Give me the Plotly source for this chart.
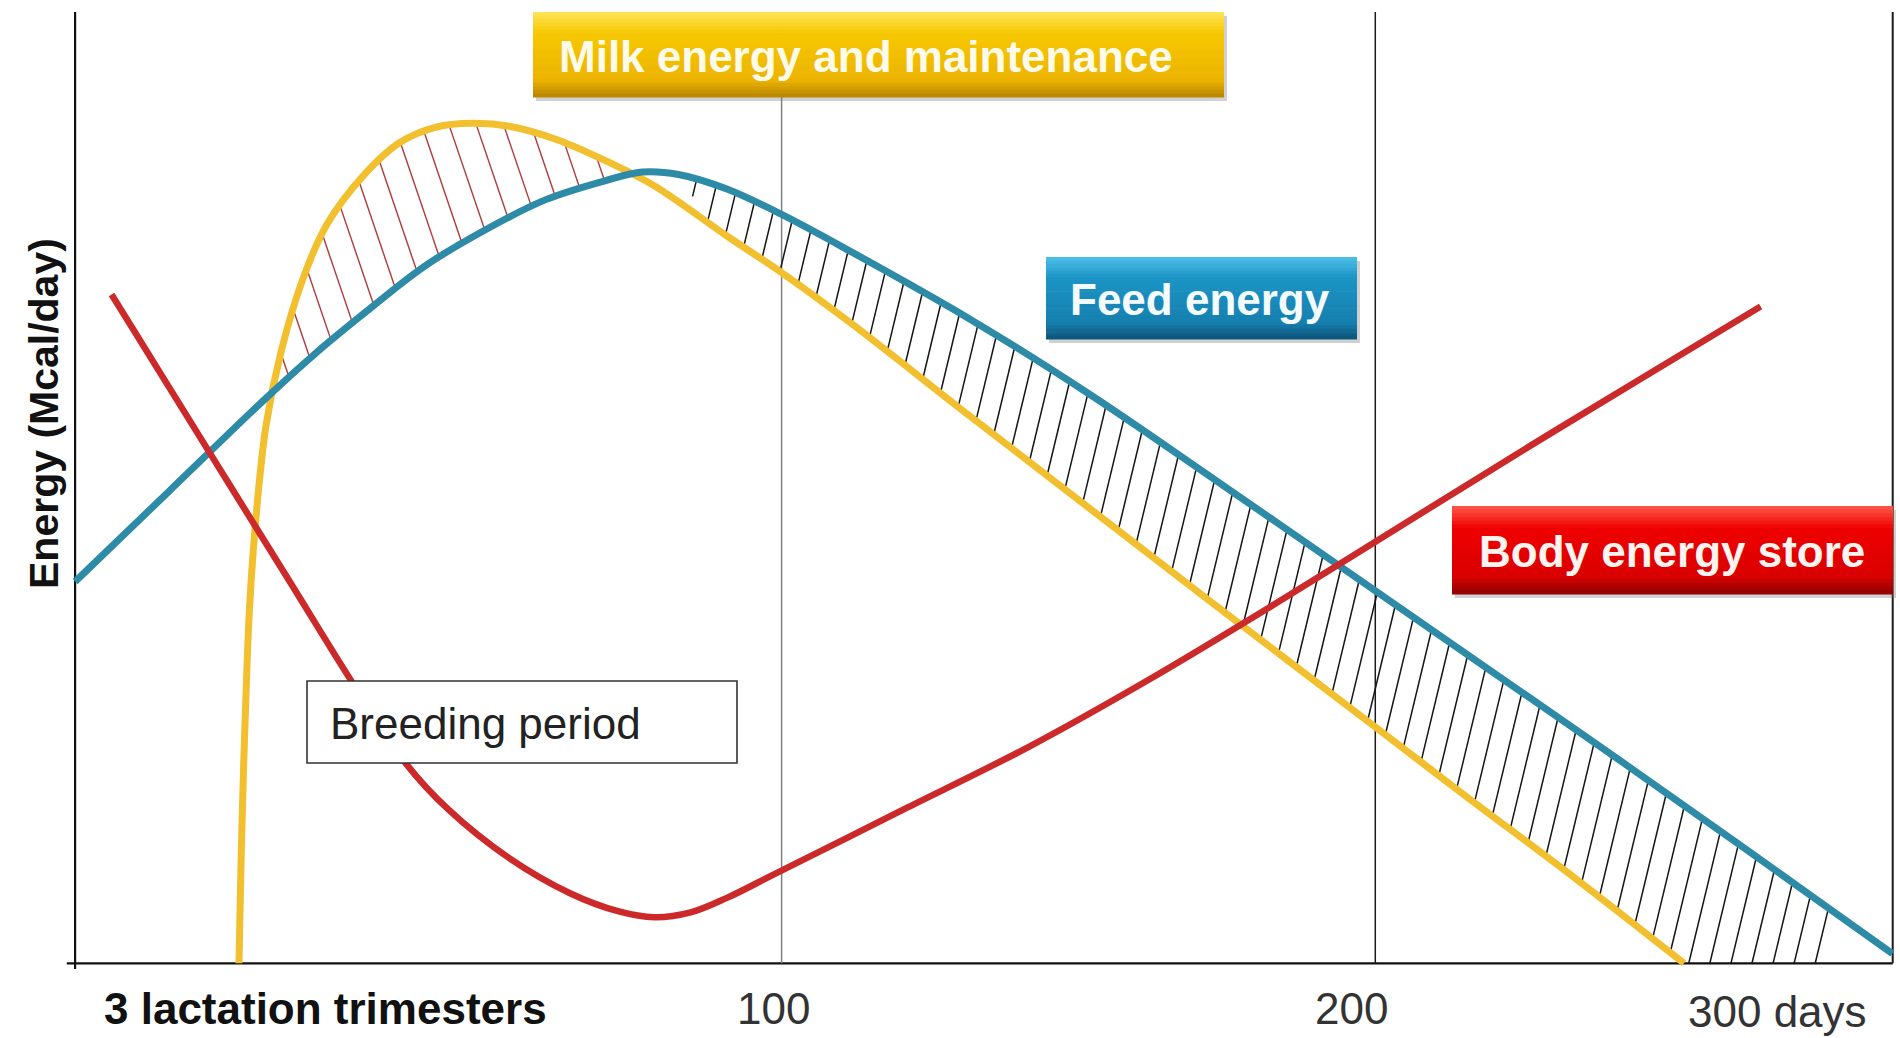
import numpy as np
import plotly.graph_objects as go

# ---------------- data (schematic: x = days in milk, y = energy, arbitrary 0-100) -------------
feed_days = [-19.0, -3.08, 12.84, 21.41, 29.57, 39.78, 49.98, 60.18, 70.39, 76.51, 82.63,
             90.79, 100.0, 111.2, 131.6, 152.0, 172.4, 192.8, 213.2, 233.7, 254.1, 274.5,
             287.1]
feed_energy = [39.62, 49.06, 58.49, 63.27, 67.42, 72.33, 76.10, 79.25, 81.26, 82.14, 81.89,
               80.38, 77.74, 74.04, 66.92, 59.02, 50.44, 41.76, 33.02, 24.28, 15.47, 6.54,
               1.01]

milk_days = [8.6, 9.0, 9.6, 10.4, 11.6, 13.2, 15.7, 19.4, 23.4, 29.6, 35.7, 41.8, 47.9,
             54.1, 62.2, 70.4, 78.6, 90.8, 100, 111.2, 131.6, 152.0, 172.4, 200, 214.7,
             233.7, 252.0]
milk_energy = [0, 11.9, 24.5, 37.1, 47.2, 56.0, 63.5, 71.1, 76.7, 81.8, 85.2, 86.8, 87.2,
               86.9, 85.5, 83.3, 80.7, 75.5, 71.7, 66.67, 56.86, 47.17, 37.48, 24.53, 17.61,
               8.81, 0]

body_days = [-12.86, -3.08, 7.12, 17.33, 27.53, 36.71, 43.86, 54.06, 64.27, 72.43, 78.55,
             84.67, 90.79, 98.96, 111.2, 121.4, 141.8, 162.2, 182.6, 203.0, 223.4, 243.9,
             264.9]
body_energy = [69.43, 59.71, 49.57, 39.45, 29.31, 20.75, 15.97, 10.94, 7.30, 5.41, 4.78,
               5.28, 6.79, 9.31, 13.08, 16.23, 22.52, 29.56, 37.11, 44.91, 52.70, 60.38,
               68.18]

tick_days = [100, 200]
tick_labels = ["100", "200", "300 days"]
axis_label_x = "3 lactation trimesters"
axis_label_y = "Energy (Mcal/day)"
box_labels = ["Milk energy and maintenance", "Feed energy", "Body energy store"]
note_label = "Breeding period"

# ---------------- geometry ----------------
W, H = 1900, 1038
X_LO, X_HI = -31.65, 288.38
Y_LO, Y_HI = -7.755, 100.0
PX_PER_DAY = W / (X_HI - X_LO)
PX_PER_E = H / (Y_HI - Y_LO)

YELLOW = "#F2BF2F"
BLUE = "#2E8BA7"
RED = "#CC2A2A"
FONT = "Liberation Sans, Arial, sans-serif"


def milk_f(x):
    return np.interp(x, milk_days, milk_energy, left=0.0, right=0.0)


def feed_f(x):
    return np.interp(x, feed_days, feed_energy)


def hatch(c_values, slope, lower, upper, xmin, xmax, min_len):
    E = np.linspace(-1, 100, 6061)
    xs, ys = [], []
    for c in c_values:
        x = c + slope * E
        inside = (E >= lower(x)) & (E <= upper(x)) & (x >= xmin) & (x <= xmax)
        idx = np.where(inside)[0]
        if len(idx) == 0:
            continue
        br = np.where(np.diff(idx) > 1)[0]
        if len(br):
            idx = idx[:br[0] + 1]
        e0, e1 = E[idx[0]], E[idx[-1]]
        if e1 - e0 < min_len:
            continue
        xs += [c + slope * e0, c + slope * e1, None]
        ys += [e0, e1, None]
    return xs, ys


fig = go.Figure()

# black hatching: feed energy above milk energy ("/" lines)
s_black = 0.24 * PX_PER_E / PX_PER_DAY
hx, hy = hatch(np.arange(54, 274.2, 3.55), s_black,
               lambda x: np.maximum(milk_f(x), 0.0), feed_f, 85.0, 287.0, 1.0)
fig.add_trace(go.Scatter(x=hx, y=hy, mode="lines", line=dict(color="#151515", width=1.5),
                         hoverinfo="skip"))

# red hatching: milk energy above feed energy ("\" lines)
s_red = -0.34 * PX_PER_E / PX_PER_DAY
rx, ry = hatch(np.arange(46, 120, 4.6), s_red, feed_f, milk_f, 13.0, 76.0, 1.0)
fig.add_trace(go.Scatter(x=rx, y=ry, mode="lines", line=dict(color="#B03A3A", width=1.4),
                         hoverinfo="skip"))

# curves
fig.add_trace(go.Scatter(x=milk_days, y=milk_energy, mode="lines", name=box_labels[0],
                         line=dict(color=YELLOW, width=7, shape="spline")))
fig.add_trace(go.Scatter(x=feed_days, y=feed_energy, mode="lines", name=box_labels[1],
                         line=dict(color=BLUE, width=7, shape="spline")))
fig.add_trace(go.Scatter(x=body_days, y=body_energy, mode="lines", name=box_labels[2],
                         line=dict(color=RED, width=6.5, shape="spline")))

shapes = []
TOP_E = 98.75
X_LEFT = -19.0
X_RIGHT = 287.15
# axes and reference lines
shapes.append(dict(type="line", x0=X_LEFT, x1=X_LEFT, y0=-0.6, y1=TOP_E, xref="x", yref="y",
                   line=dict(color="#111", width=2.2), layer="below"))
shapes.append(dict(type="line", x0=X_LEFT - 1.4, x1=X_RIGHT, y0=0, y1=0, xref="x", yref="y",
                   line=dict(color="#111", width=2.2), layer="below"))
shapes.append(dict(type="line", x0=tick_days[0], x1=tick_days[0], y0=0, y1=TOP_E, xref="x",
                   yref="y", line=dict(color="#808080", width=1.5), layer="below"))
shapes.append(dict(type="line", x0=tick_days[1], x1=tick_days[1], y0=0, y1=TOP_E, xref="x",
                   yref="y", line=dict(color="#1a1a1a", width=1.5), layer="below"))
shapes.append(dict(type="line", x0=X_RIGHT, x1=X_RIGHT, y0=0, y1=TOP_E, xref="x", yref="y",
                   line=dict(color="#1a1a1a", width=2), layer="below"))


def hex2rgb(h):
    h = h.lstrip("#")
    return [int(h[i:i + 2], 16) for i in (0, 2, 4)]


def grad_box(x0, x1, y0, y1, stops, n=24):
    """pixel coords (top-left origin); stops = list of (frac, hex)."""
    shapes.append(dict(type="rect", xref="paper", yref="paper",
                       x0=(x0 + 3) / W, x1=(x1 + 3) / W, y0=1 - (y1 + 4) / H, y1=1 - (y0 + 4) / H,
                       fillcolor="rgba(120,120,120,0.35)", line=dict(width=0), layer="above"))
    fr = [s[0] for s in stops]
    cols = np.array([hex2rgb(s[1]) for s in stops], dtype=float)
    for i in range(n):
        t = (i + 0.5) / n
        c = [np.interp(t, fr, cols[:, k]) for k in range(3)]
        ya = y0 + (y1 - y0) * i / n
        yb = y0 + (y1 - y0) * (i + 1) / n + 0.6
        shapes.append(dict(type="rect", xref="paper", yref="paper",
                           x0=x0 / W, x1=x1 / W, y0=1 - yb / H, y1=1 - ya / H,
                           fillcolor="rgb(%d,%d,%d)" % tuple(int(v) for v in c),
                           line=dict(width=0), layer="above"))


grad_box(533, 1224, 12, 97, [(0, "#FFE55A"), (0.25, "#F7C800"), (0.8, "#EDB400"), (1, "#B88400")])
grad_box(1046, 1357, 257, 339, [(0, "#4CC0E8"), (0.25, "#1C95C6"), (0.8, "#1680B0"), (1, "#0D5478")])
grad_box(1452, 1893, 506, 594, [(0, "#FF5A4A"), (0.25, "#F00000"), (0.8, "#DA0000"), (1, "#900000")])

# breeding period box
shapes.append(dict(type="rect", xref="paper", yref="paper", x0=307 / W, x1=737 / W,
                   y0=1 - 763 / H, y1=1 - 681 / H, fillcolor="white",
                   line=dict(color="#333", width=1.6), layer="above"))

annotations = []


def ann(text, X, Y, size, color, bold=False, xanchor="center", angle=0):
    annotations.append(dict(text=text, x=X / W, y=1 - Y / H, xref="paper", yref="paper",
                            showarrow=False, xanchor=xanchor, yanchor="middle", textangle=angle,
                            font=dict(family=FONT, size=size, color=color,
                                      weight="bold" if bold else "normal")))


ann(box_labels[0], 866, 56, 44, "#FFFBEA", bold=True)
ann(box_labels[1], 1200, 299, 44, "#F4FBFF", bold=True)
ann(box_labels[2], 1672, 551, 44, "#FFF4F0", bold=True)
ann(note_label, 328, 723, 44, "#222", xanchor="left")
ann(axis_label_x, 325, 1008, 44, "#111", bold=True)
ann(tick_labels[0], 773, 1008, 44, "#333")
ann(tick_labels[1], 1351, 1008, 44, "#333")
ann(tick_labels[2], 1777, 1011, 44, "#333")
ann(axis_label_y, 44, 414, 41, "#111", bold=True, angle=-90)

fig.update_layout(
    width=W, height=H, margin=dict(l=0, r=0, t=0, b=0),
    paper_bgcolor="white", plot_bgcolor="white", showlegend=False,
    xaxis=dict(range=[X_LO, X_HI], visible=False),
    yaxis=dict(range=[Y_LO, Y_HI], visible=False),
    shapes=shapes, annotations=annotations,
)

fig.write_html("out.html", config={"displayModeBar": False},
               post_script="document.body.style.margin='0';document.body.style.overflow='hidden';")
